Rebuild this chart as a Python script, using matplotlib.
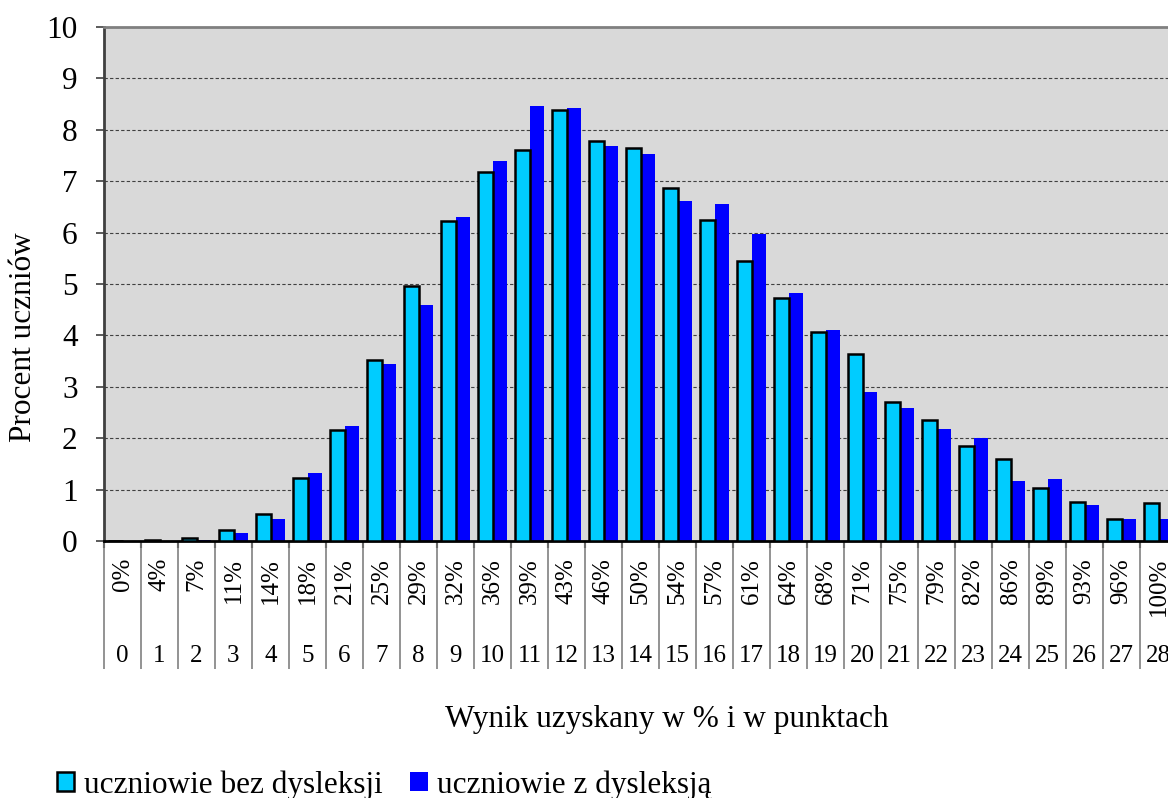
import matplotlib.pyplot as plt
import numpy as np
from matplotlib.patches import Patch
import matplotlib.transforms as mtransforms

plt.rcParams['font.family'] = ['Liberation Serif', 'DejaVu Serif']

# data
punkty = list(range(29))
procent_wyniku = ['0%', '4%', '7%', '11%', '14%', '18%', '21%', '25%', '29%', '32%',
                  '36%', '39%', '43%', '46%', '50%', '54%', '57%', '61%', '64%', '68%',
                  '71%', '75%', '79%', '82%', '86%', '89%', '93%', '96%', '100%']
bez_dysleksji = [0.0, 0.02, 0.05, 0.21, 0.53, 1.22, 2.16, 3.53, 4.97, 6.22,
                 7.17, 7.61, 8.38, 7.79, 7.64, 6.86, 6.25, 5.45, 4.73, 4.06,
                 3.63, 2.71, 2.35, 1.84, 1.60, 1.03, 0.76, 0.42, 0.74]
z_dysleksja = [0.0, 0.0, 0.02, 0.15, 0.43, 1.33, 2.23, 3.45, 4.60, 6.31,
               7.40, 8.47, 8.43, 7.69, 7.53, 6.62, 6.55, 5.98, 4.82, 4.10,
               2.90, 2.58, 2.17, 2.00, 1.17, 1.20, 0.70, 0.42, 0.42]

cyan = '#00ccff'
blue = '#0000ff'

fig = plt.figure(figsize=(11.68, 7.98), dpi=100)
ax = fig.add_axes([104 / 1168, 1 - 541 / 798, 1073 / 1168, 514 / 798])
ax.set_facecolor('#d9d9d9')

x = np.array(punkty)
w = 0.4
ax.bar(x + w / 2, z_dysleksja, w, color=blue, zorder=2)
ax.bar(x - w / 2, bez_dysleksji, w, color=cyan, edgecolor='black', linewidth=1.8, zorder=3)

ax.set_xlim(-0.5, 28.5)
ax.set_ylim(0, 10)
ax.set_yticks(range(0, 11))
ax.yaxis.grid(True, color='#404040', linestyle=(0, (3, 2)), linewidth=0.8)
ax.set_axisbelow(True)
ax.tick_params(axis='y', labelsize=22.5, length=6, width=1.2, pad=13, color='#404040')

# category boundaries as x ticks
ax.set_xticks(np.arange(-0.5, 29, 1))
ax.set_xticklabels([])
ax.tick_params(axis='x', length=5, width=1.5, color='black')

for s in ['top', 'right']:
    ax.spines[s].set_color('#808080')
    ax.spines[s].set_linewidth(2)
ax.spines['left'].set_color('#404040')
ax.spines['left'].set_linewidth(2)
ax.spines['bottom'].set_color('black')
ax.spines['bottom'].set_linewidth(2)

# two-level category labels under the axis
trans = mtransforms.blended_transform_factory(ax.transData, ax.transAxes)
ax.vlines(np.arange(-0.5, 29, 1), -0.249, 0, transform=trans, color='#808080',
          linewidth=1.2, clip_on=False)
for i in punkty:
    ax.text(i, -0.033, procent_wyniku[i], transform=trans, rotation=90,
            ha='center', va='top', fontsize=18)
    ax.text(i, -0.2354, str(punkty[i]), transform=trans, ha='center',
            va='baseline', fontsize=18)

fig.text(24 / 1168, 1 - 337 / 798, 'Procent uczniów', rotation=90,
         ha='center', va='center', fontsize=22.5)
fig.text(667 / 1168, 1 - 727 / 798, 'Wynik uzyskany w % i w punktach',
         ha='center', va='baseline', fontsize=22.5)

handles = [Patch(facecolor=cyan, edgecolor='black', linewidth=1.8, label='uczniowie bez dysleksji'),
           Patch(facecolor=blue, label='uczniowie z dysleksją')]
fig.legend(handles=handles, loc='lower left', bbox_to_anchor=(57 / 1168, -0.002),
           ncol=2, frameon=False, fontsize=22.5, handlelength=0.55, handleheight=0.55,
           handletextpad=0.3, columnspacing=0.9, borderpad=0, borderaxespad=0)

fig.savefig('out.png', dpi=100)
